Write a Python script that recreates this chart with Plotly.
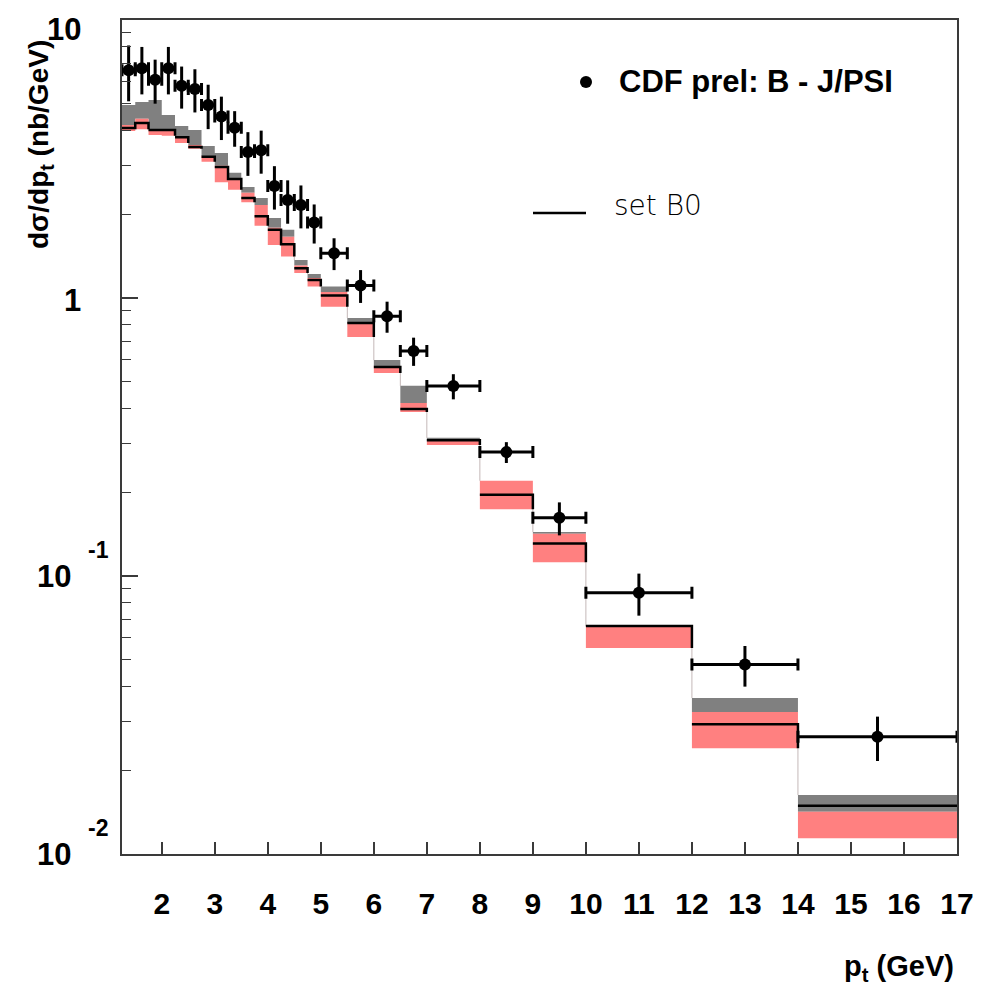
import plotly.graph_objects as go
import math

# ---- bin edges (GeV) ----
edges = [1.25, 1.5, 1.75, 2.0, 2.25, 2.5, 2.75, 3.0, 3.25, 3.5, 3.75, 4.0, 4.25,
         4.5, 4.75, 5.0, 5.5, 6.0, 6.5, 7.0, 8.0, 9.0, 10.0, 12.0, 14.0, 17.0]

# ---- theory (set B0) ----
central = [4.09, 4.26, 4.02, 4.02, 3.79, 3.49, 3.22, 2.96, 2.68, 2.29, 1.97, 1.76, 1.56,
           1.28, 1.16, 1.02, 0.813, 0.565, 0.399, 0.308, 0.196, 0.131, 0.0661, 0.0293, 0.0149]
grey_up = [4.95, 5.07, 5.15, 4.55, 4.16, 4.02, 3.52, 3.32, 2.82, 2.51, 2.29, 1.94, 1.76,
           1.37, 1.22, 1.10, 0.847, 0.598, 0.483, 0.314, 0.220, 0.144, 0.0661, 0.0364, 0.0163]
pink_up = [4.19, 4.41, 4.05, 4.02, 3.79, 3.55, 3.24, 2.99, 2.68, 2.39, 2.16, 1.79, 1.66,
           1.31, 1.18, 1.05, 0.813, 0.569, 0.419, 0.306, 0.220, 0.142, 0.0661, 0.0324, 0.0142]
pink_lo = [3.99, 4.05, 3.86, 3.83, 3.61, 3.44, 3.09, 2.61, 2.45, 2.21, 1.82, 1.55, 1.41,
           1.23, 1.10, 0.93, 0.724, 0.537, 0.389, 0.296, 0.174, 0.112, 0.0551, 0.0240, 0.0114]

# ---- CDF preliminary data ----
data_y = [6.6, 6.7, 6.1, 6.7, 5.8, 5.65, 4.95, 4.5, 4.1, 3.35, 3.4, 2.53, 2.25, 2.16, 1.87,
          1.45, 1.11, 0.86, 0.645, 0.482, 0.279, 0.162, 0.087, 0.048, 0.0264]
data_err = [1.5, 1.3, 1.1, 1.3, 1.0, 1.0, 0.9, 0.8, 0.6, 0.6, 0.6, 0.45, 0.4, 0.38, 0.3,
            0.19, 0.15, 0.11, 0.075, 0.05, 0.024, 0.022, 0.015, 0.008, 0.0048]

# ---- tick labels ----
x_ticks = [2, 3, 4, 5, 6, 7, 8, 9, 10, 11, 12, 13, 14, 15, 16, 17]
y_ticks = [0.01, 0.1, 1, 10]
y_tick_base = ["10", "10", "1", "10"]
y_tick_exp = ["-2", "-1", "", ""]

n = len(central)
centers = [(edges[i] + edges[i + 1]) / 2 for i in range(n)]
half_w = [(edges[i + 1] - edges[i]) / 2 for i in range(n)]

FONT = "Liberation Sans"
AX = "#3a3a3a"

fig = go.Figure()

# thin connectors between consecutive bands
cx, cy = [], []
for i in range(n - 1):
    if grey_up[i + 1] < pink_lo[i]:
        cx += [edges[i + 1], edges[i + 1], None]
        cy += [pink_lo[i], grey_up[i + 1], None]
fig.add_trace(go.Scatter(x=cx, y=cy, mode="lines", line=dict(color="#c4b8b8", width=1),
                         hoverinfo="skip"))


def band(lo, hi):
    xs, ys = [], []
    for i in range(n):
        xs += [edges[i], edges[i + 1], edges[i + 1], edges[i], edges[i], None]
        ys += [lo[i], lo[i], hi[i], hi[i], lo[i], None]
    return xs, ys


gx, gy = band(pink_up, grey_up)
fig.add_trace(go.Scatter(x=gx, y=gy, mode="lines", fill="toself", fillcolor="#808080",
                         line=dict(width=0, color="#808080"), hoverinfo="skip"))
px_, py_ = band(pink_lo, pink_up)
fig.add_trace(go.Scatter(x=px_, y=py_, mode="lines", fill="toself", fillcolor="#ff8080",
                         line=dict(width=0, color="#ff8080"), hoverinfo="skip"))

# central black histogram line
bx, by = [], []
for i in range(n):
    bx += [edges[i], edges[i + 1]]
    by += [central[i], central[i]]
    if i < n - 1:
        if central[i + 1] >= central[i]:
            end = central[i + 1]
        else:
            end = max(pink_lo[i], central[i + 1])
        bx.append(edges[i + 1])
        by.append(end)
        if end != central[i + 1]:
            bx.append(None)
            by.append(None)
fig.add_trace(go.Scatter(x=bx, y=by, mode="lines", line=dict(color="black", width=2.5),
                         hoverinfo="skip"))

# data points
fig.add_trace(go.Scatter(
    x=centers, y=data_y, mode="markers",
    marker=dict(color="black", size=12),
    error_y=dict(type="data", array=data_err, color="black", thickness=3, width=0),
    error_x=dict(type="data", array=half_w, color="black", thickness=3, width=6),
))

# page geometry (body margin removed by post_script)
L, T, PW, PH = 122, 20, 835, 834
W, H = 985, 990


def px2paper_x(px):
    return (px - L) / PW


def px2paper_y(py):
    return (T + PH - py) / PH


# y tick labels (ROOT style 10^n)
annots = []
for v, b, e in zip(y_ticks, y_tick_base, y_tick_exp):
    ly = math.log10(v)
    if e:
        annots.append(dict(x=px2paper_x(73), y=ly, xref="paper", yref="y", text=b,
                           showarrow=False, xanchor="right", yanchor="middle",
                           font=dict(family=FONT, size=31, color="black", weight="bold")))
        annots.append(dict(x=px2paper_x(86), y=ly, xref="paper", yref="y", text=e,
                           showarrow=False, xanchor="left", yanchor="middle", yshift=26,
                           font=dict(family=FONT, size=23, color="black", weight="bold")))
    else:
        annots.append(dict(x=px2paper_x(83), y=ly, xref="paper", yref="y", text=b,
                           showarrow=False, xanchor="right", yanchor="middle",
                           yshift=-9 if v == 10 else -2,
                           font=dict(family=FONT, size=31, color="black", weight="bold")))

# axis titles
annots.append(dict(x=px2paper_x(41), y=px2paper_y(145), xref="paper", yref="paper",
                   text="dσ/dp<sub>t</sub> (nb/GeV)", textangle=-90, showarrow=False,
                   xanchor="center", yanchor="middle",
                   font=dict(family=FONT, size=28, color="black", weight="bold")))
annots.append(dict(x=px2paper_x(956), y=px2paper_y(968), xref="paper", yref="paper",
                   text="p<sub>t</sub> (GeV)", showarrow=False, xanchor="right",
                   yanchor="middle",
                   font=dict(family=FONT, size=29, color="black", weight="bold")))

# legend
annots.append(dict(x=px2paper_x(617), y=px2paper_y(82), xref="paper", yref="paper",
                   text="CDF prel: B - J/PSI", showarrow=False, xanchor="left",
                   yanchor="middle",
                   font=dict(family=FONT, size=31, color="black", weight="bold")))
annots.append(dict(x=px2paper_x(612), y=px2paper_y(206), xref="paper", yref="paper",
                   text="set B0", showarrow=False, xanchor="left", yanchor="middle",
                   font=dict(family="DejaVu Sans", size=28, color="black", weight=200)))

shapes = [
    dict(type="circle", xref="paper", yref="paper", xsizemode="pixel", ysizemode="pixel",
         xanchor=px2paper_x(586), yanchor=px2paper_y(82), x0=-6, x1=6, y0=-6, y1=6,
         fillcolor="black", line=dict(width=0)),
    dict(type="line", xref="paper", yref="paper", x0=px2paper_x(533), x1=px2paper_x(586),
         y0=px2paper_y(213), y1=px2paper_y(213), line=dict(color="black", width=2.5)),
]

minor_y = [m * 10 ** d for d in (-2, -1, 0) for m in range(2, 10)]

fig.update_layout(
    width=W, height=H,
    margin=dict(l=L, r=W - L - PW, t=T, b=H - T - PH, autoexpand=False),
    plot_bgcolor="white", paper_bgcolor="white",
    showlegend=False,
    annotations=annots,
    shapes=shapes,
    xaxis=dict(range=[1.25, 17], tickvals=x_ticks, ticktext=[str(t) for t in x_ticks],
               ticks="inside", ticklen=12, tickwidth=1.5, tickcolor=AX,
               showline=True, linecolor=AX, linewidth=2, mirror=True, automargin=False,
               showgrid=False, zeroline=False, ticklabelstandoff=22,
               tickfont=dict(family=FONT, size=30, color="black", weight="bold")),
    yaxis=dict(type="log", range=[-2, 1], tickvals=y_ticks, showticklabels=False,
               ticks="inside", ticklen=16, tickwidth=1.5, tickcolor=AX, automargin=False,
               minor=dict(tickvals=minor_y, ticks="inside", ticklen=9, tickwidth=1.2,
                          tickcolor=AX, showgrid=False),
               showline=True, linecolor=AX, linewidth=2, mirror=True,
               showgrid=False, zeroline=False),
)

fig.write_html("out.html",
               config={"displayModeBar": False},
               post_script="document.body.style.margin='0';document.body.style.padding='0';"
                           "document.body.style.overflow='hidden';")
